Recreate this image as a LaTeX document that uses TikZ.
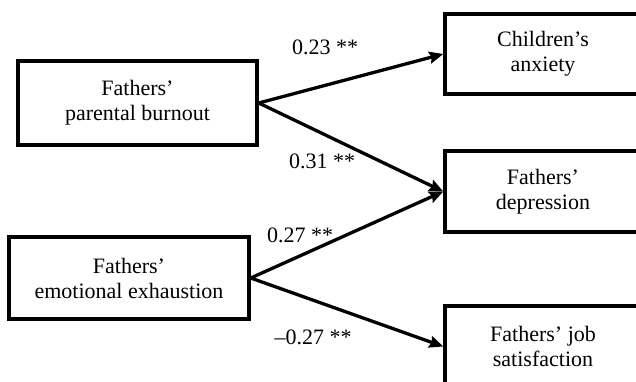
\documentclass[tikz,border=0pt]{standalone}
\usepackage{fontspec}
\setmainfont{Liberation Serif}
\usetikzlibrary{arrows.meta}

\begin{document}
\begin{tikzpicture}[x=1pt, y=-1pt,
    varbox/.style={draw=black, line width=3.5pt, align=center, inner sep=0pt,
        font=\fontsize{22}{25}\selectfont},
    effect/.style={-{Stealth[length=14pt, width=12pt, inset=2pt]}, line width=3.3pt},
    coef/.style={font=\fontsize{22}{25}\selectfont}]
    \useasboundingbox (0,0) rectangle (636,382);
    \clip (0,0) rectangle (636,382);

    % Predictors
    \node[varbox, minimum width=239pt, minimum height=84pt] (burnout) at (137.5,103)
        {Fathers’\\parental burnout};
    \node[varbox, minimum width=240pt, minimum height=82pt] (exhaustion) at (129,278)
        {Fathers’\\emotional exhaustion};

    % Outcomes
    \node[varbox, minimum width=196pt, minimum height=80pt] (anxiety) at (543,54)
        {Children’s\\anxiety};
    \node[varbox, minimum width=196pt, minimum height=81pt] (depression) at (543,191.5)
        {Fathers’\\depression};
    \node[varbox, minimum width=196pt, minimum height=81pt] (jobsat) at (543,346.5)
        {Fathers’ job\\satisfaction};

    % Paths
    \draw[effect] (burnout.east) -- (anxiety.west);
    \draw[effect] (burnout.east) -- (depression.west);
    \draw[effect] (exhaustion.east) -- (depression.west);
    \draw[effect] (exhaustion.east) -- (jobsat.west);

    % Coefficients
    \node[coef] (c23) at (325,47) {0.23 **};
    \node[coef] (c31) at (322,161) {0.31 **};
    \node[coef] (c27) at (300,235) {0.27 **};
    \node[coef] (cm27) at (313,337) {–0.27 **};
\end{tikzpicture}
\end{document}
